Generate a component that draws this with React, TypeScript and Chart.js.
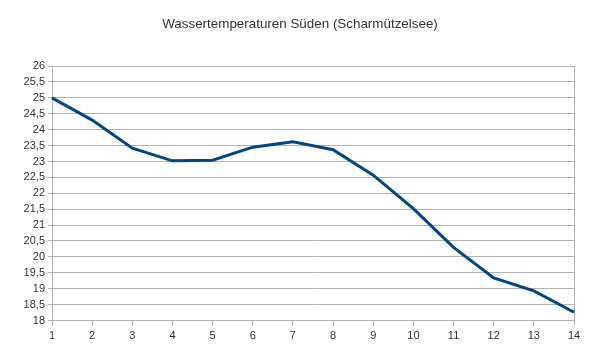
import React, { useEffect, useRef } from "react";
import { Chart, registerables } from "chart.js";

Chart.register(...registerables);

const titleText = "Wassertemperaturen Süden (Scharmützelsee)";
const categories = ["1", "2", "3", "4", "5", "6", "7", "8", "9", "10", "11", "12", "13", "14"];
const temperatures = [25.0, 24.3, 23.42, 23.02, 23.04, 23.45, 23.62, 23.37, 22.57, 21.52, 20.3, 19.34, 18.93, 18.26];
const yMin = 18;
const yMax = 26;
const yStep = 0.5;

const FONT = "'Liberation Sans', Arial, sans-serif";
const GRID = "#b3b3b3";
const LINE = "#004586";

export default function App() {
  const ref = useRef<HTMLCanvasElement | null>(null);

  useEffect(() => {
    if (!ref.current) return;
    const chart = new Chart(ref.current, {
      type: "line",
      data: {
        labels: categories,
        datasets: [
          {
            data: temperatures,
            borderColor: LINE,
            backgroundColor: LINE,
            borderWidth: 3,
            pointRadius: 0,
            tension: 0,
            fill: false,
            yAxisID: "y",
          },
        ],
      },
      options: {
        animation: false,
        responsive: false,
        maintainAspectRatio: false,
        layout: { padding: { left: 0, right: 0, top: 0, bottom: 0 } },
        plugins: {
          legend: { display: false },
          tooltip: { enabled: false },
          title: {
            display: true,
            text: titleText,
            color: "#333333",
            font: { family: FONT, size: 13.4, weight: "normal" },
            padding: { top: 16, bottom: 34 },
          },
        },
        scales: {
          x: {
            type: "category",
            offset: false,
            grid: {
              display: true,
              drawOnChartArea: true,
              color: (ctx: any) => (ctx.index === categories.length - 1 ? GRID : "rgba(0,0,0,0)"),
              tickColor: GRID,
              tickLength: 5,
              lineWidth: 1,
            },
            border: { display: true, color: GRID, width: 1 },
            ticks: {
              color: "#333333",
              font: { family: FONT, size: 11 },
              padding: 4,
              maxRotation: 0,
              autoSkip: false,
            },
            afterFit: (scale: any) => {
              scale.height = 40.5;
            },
          },
          y: {
            min: yMin,
            max: yMax,
            grid: {
              color: GRID,
              tickColor: GRID,
              tickLength: 4,
              lineWidth: 1,
            },
            border: { display: true, color: GRID, width: 1 },
            ticks: {
              stepSize: yStep,
              autoSkip: false,
              color: "#333333",
              font: { family: FONT, size: 11 },
              padding: 3,
              callback: (v: any) => String(v).replace(".", ","),
            },
            afterFit: (scale: any) => {
              scale.width = 52;
            },
          },
          yRight: {
            type: "linear",
            position: "right",
            display: true,
            grid: { display: false, drawOnChartArea: false },
            border: { display: false },
            ticks: { display: false },
            afterFit: (scale: any) => {
              scale.width = 26;
            },
          },
        },
      },
    });
    return () => chart.destroy();
  }, []);

  return (
    <div style={{ position: "fixed", left: 0, top: 0, width: 600, height: 361, background: "#fff" }}>
      <canvas ref={ref} width={600} height={361} style={{ display: "block", width: 600, height: 361 }} />
    </div>
  );
}
